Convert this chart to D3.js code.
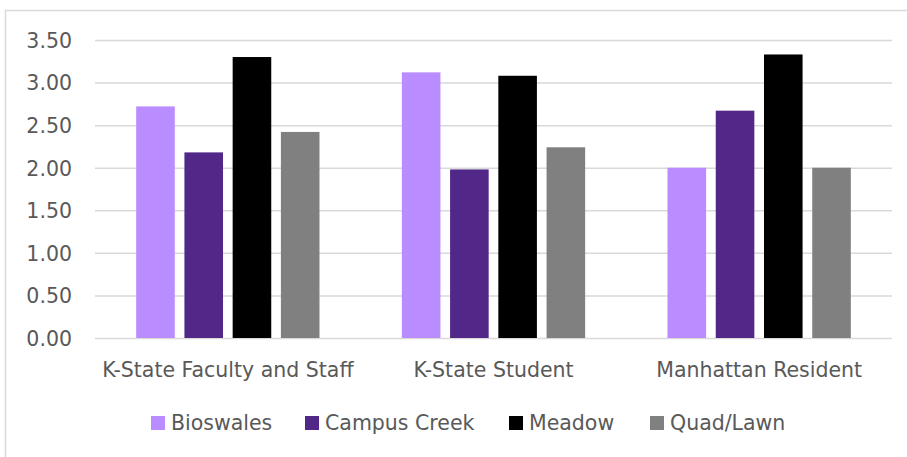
<!DOCTYPE html>
<html><head><meta charset="utf-8">
<script src="https://cdn.jsdelivr.net/npm/d3@7"></script>
<style>body{margin:0;background:#fff;} svg{display:block;}</style>
</head><body>
<svg id="c" width="907" height="457"></svg>
<script>
const categories = ["K-State Faculty and Staff", "K-State Student", "Manhattan Resident"];
const seriesNames = ["Bioswales", "Campus Creek", "Meadow", "Quad/Lawn"];
const bioswales = [2.72, 3.12, 2.00];
const campusCreek = [2.18, 1.98, 2.67];
const meadow = [3.30, 3.08, 3.33];
const quadLawn = [2.42, 2.24, 2.00];
const yTicks = [0, 0.5, 1, 1.5, 2, 2.5, 3, 3.5];
const colors = ["#b98cff", "#512888", "#000000", "#808080"];

(function () {
const seriesValues = [bioswales, campusCreek, meadow, quadLawn];
const svg = d3.select("#c");
const font = "'DejaVu Sans', sans-serif";
const fs = "20.5px";

// chart border
svg.append("rect").attr("x", 5.5).attr("y", 10.5).attr("width", 920).attr("height", 470)
  .attr("fill", "none").attr("stroke", "#d9d9d9").attr("stroke-width", 1.5);

const pl = 95, pr = 892, pt = 40, pb = 338;
const x0 = d3.scaleBand().domain(categories).range([pl, pr]).paddingInner(0.31).paddingOuter(0.155);
const x1 = d3.scaleBand().domain(seriesNames).range([0, x0.bandwidth()]).paddingInner(0.2);
const y = d3.scaleLinear().domain([0, 3.5]).range([pb, pt]);

// gridlines
const yAxis = d3.axisLeft(y).tickValues(yTicks).tickFormat(d3.format(".2f")).tickSize(-(pr - pl)).tickPadding(23);
const ga = svg.append("g").attr("transform", `translate(${pl},0)`).call(yAxis);
ga.select(".domain").remove();
ga.selectAll(".tick line").attr("stroke", "#d9d9d9").attr("stroke-width", 1.5);
ga.selectAll(".tick text").attr("fill", "#595959").style("font-family", font).style("font-size", fs).attr("dy", "0.36em");

// bars
const groups = svg.append("g").selectAll("g").data(categories).join("g")
  .attr("transform", d => `translate(${x0(d)},0)`);
groups.selectAll("rect").data((c, ci) => seriesNames.map((s, si) => ({s, si, v: seriesValues[si][ci]})))
  .join("rect")
  .attr("x", d => x1(d.s)).attr("width", x1.bandwidth())
  .attr("y", d => y(d.v)).attr("height", d => y(0) - y(d.v))
  .attr("fill", d => colors[d.si]);

// category axis
const xAxis = d3.axisBottom(x0).tickSize(0).tickPadding(24);
const gx = svg.append("g").attr("transform", `translate(0,${pb})`).call(xAxis);
gx.select(".domain").remove();
gx.selectAll(".tick text").attr("fill", "#595959").style("font-family", font).style("font-size", fs);

// legend
const legendX = [151, 305, 509, 650];
const lg = svg.append("g").selectAll("g").data(seriesNames).join("g")
  .attr("transform", (d, i) => `translate(${legendX[i]},423)`);
lg.append("rect").attr("x", 0).attr("y", -7).attr("width", 14).attr("height", 14).attr("fill", (d, i) => colors[i]);
lg.append("text").attr("x", 20).attr("y", 0).attr("dy", "0.36em").text(d => d)
  .attr("fill", "#595959").style("font-family", font).style("font-size", fs);
})();
</script>
</body></html>
